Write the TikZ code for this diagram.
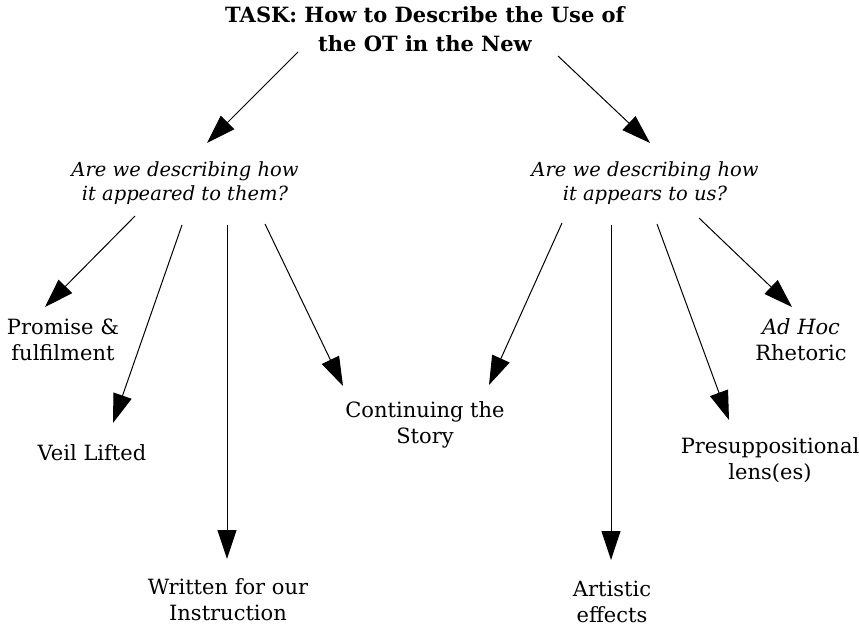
\documentclass[tikz,border=0pt]{standalone}
\usepackage{fontspec}
\setmainfont{DejaVu Serif}
\usetikzlibrary{arrows.meta}
\tikzset{
  lbl/.style={align=center, anchor=base, inner sep=0pt, font=\fontsize{21}{26}\selectfont},
  ques/.style={align=center, anchor=base, inner sep=0pt, font=\fontsize{19.5}{24}\selectfont\itshape},
  ttl/.style={align=center, anchor=base, inner sep=0pt, font=\fontsize{21}{29}\selectfont\bfseries},
  arr/.style={line width=1pt, -{Triangle[length=29pt,width=19pt]}}
}
\begin{document}
\begin{tikzpicture}[x=1pt,y=-1pt]
\useasboundingbox (0,0) rectangle (859,626);
% nodes (anchor = baseline of last line)
\node[ttl] (task) at (425,52) {TASK: How to Describe the Use of\\the OT in the New};
\node[ques] (lq) at (185,200) {Are we describing how\\it appeared to them?};
\node[ques] (rq) at (645,200) {Are we describing how\\it appears to us?};
\node[lbl] (promise) at (63,360) {Promise \&\\fulfilment};
\node[lbl] (veil) at (92,460) {Veil Lifted};
\node[lbl] (written) at (228,620) {Written for our\\Instruction};
\node[lbl] (story) at (425,443) {Continuing the\\Story};
\node[lbl] (artistic) at (612,622) {Artistic\\effects};
\node[lbl] (presup) at (770,479) {Presuppositional\\lens(es)};
\node[lbl] (adhoc) at (801,360) {\textit{Ad Hoc}\\Rhetoric};
% connector end points
\coordinate (t1) at (298,52);   \coordinate (lqin) at (207,143);
\coordinate (t2) at (558,56);   \coordinate (rqin) at (650,143);
\coordinate (l1) at (135,216);  \coordinate (pin) at (45,307);
\coordinate (l2) at (182,225);  \coordinate (vin) at (113,423);
\coordinate (l3) at (227,225);  \coordinate (win) at (227,559);
\coordinate (l4) at (265,224);  \coordinate (sinl) at (343,386);
\coordinate (r1) at (562,223);  \coordinate (sinr) at (489,385);
\coordinate (r2) at (611,225);  \coordinate (ain) at (611,560);
\coordinate (r3) at (657,224);  \coordinate (prin) at (729,420);
\coordinate (r4) at (699,218);  \coordinate (ahin) at (792,307);
% connectors
\draw[arr] (t1) -- (lqin);
\draw[arr] (t2) -- (rqin);
\draw[arr] (l1) -- (pin);
\draw[arr] (l2) -- (vin);
\draw[arr] (l3) -- (win);
\draw[arr] (l4) -- (sinl);
\draw[arr] (r1) -- (sinr);
\draw[arr] (r2) -- (ain);
\draw[arr] (r3) -- (prin);
\draw[arr] (r4) -- (ahin);
\end{tikzpicture}
\end{document}
